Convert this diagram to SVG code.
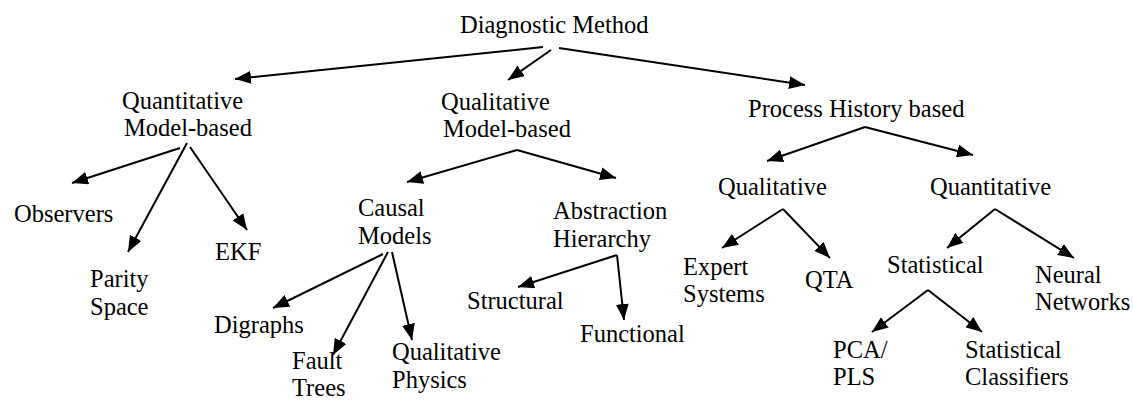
<svg xmlns="http://www.w3.org/2000/svg" width="1133" height="402" viewBox="0 0 1133 402" font-family="'Liberation Serif', 'DejaVu Serif', serif">
<defs>
<marker id="ah" markerUnits="userSpaceOnUse" markerWidth="17" markerHeight="13" refX="16" refY="6.5" orient="auto">
<path d="M0,0 L16,6.5 L0,13 z" fill="#000"/>
</marker>
<style>
text{font-family:'Liberation Serif','DejaVu Serif',serif;font-size:24.5px;fill:#000}
.c line{stroke:#000;stroke-width:2;marker-end:url(#ah)}
</style>
</defs>
<rect width="1133" height="402" fill="#fff"/>
<g class="c" id="connectors">
<line x1="543" y1="47" x2="235" y2="79"/>
<line x1="551" y1="50" x2="508" y2="80"/>
<line x1="559" y1="48" x2="805" y2="85"/>
<line x1="180" y1="148" x2="72" y2="183"/>
<line x1="187" y1="143" x2="128" y2="252"/>
<line x1="190" y1="147" x2="247" y2="230"/>
<line x1="517" y1="150" x2="407" y2="182"/>
<line x1="517" y1="150" x2="616" y2="178"/>
<line x1="383" y1="254" x2="273" y2="308"/>
<line x1="388" y1="252" x2="333" y2="355"/>
<line x1="392" y1="252" x2="412" y2="340"/>
<line x1="617" y1="255" x2="518" y2="287"/>
<line x1="617" y1="255" x2="624" y2="320"/>
<line x1="865" y1="127" x2="767" y2="161"/>
<line x1="865" y1="127" x2="973" y2="155"/>
<line x1="783" y1="209" x2="722" y2="248"/>
<line x1="783" y1="209" x2="830" y2="258"/>
<line x1="995" y1="209" x2="947" y2="248"/>
<line x1="995" y1="209" x2="1074" y2="258"/>
<line x1="928" y1="290" x2="872" y2="332"/>
<line x1="928" y1="290" x2="982" y2="332"/>
</g>
<g id="diagnostic"><text x="460" y="33">Diagnostic Method</text></g>
<g id="quant-model"><text x="122" y="109">Quantitative</text><text x="124" y="136">Model-based</text></g>
<g id="qual-model"><text x="441" y="110">Qualitative</text><text x="443" y="137">Model-based</text></g>
<g id="process-history"><text x="748" y="117">Process History based</text></g>
<g id="observers"><text x="14" y="222">Observers</text></g>
<g id="parity"><text x="90" y="287">Parity</text><text x="90" y="315">Space</text></g>
<g id="ekf"><text x="215" y="260">EKF</text></g>
<g id="causal"><text x="358" y="216">Causal</text><text x="358" y="244">Models</text></g>
<g id="abstraction"><text x="553" y="219">Abstraction</text><text x="553" y="247">Hierarchy</text></g>
<g id="digraphs"><text x="214" y="333">Digraphs</text></g>
<g id="fault-trees"><text x="292" y="369">Fault</text><text x="292" y="396">Trees</text></g>
<g id="qual-physics"><text x="392" y="360">Qualitative</text><text x="392" y="388">Physics</text></g>
<g id="structural"><text x="467" y="309">Structural</text></g>
<g id="functional"><text x="580" y="342">Functional</text></g>
<g id="qualitative"><text x="718" y="195">Qualitative</text></g>
<g id="quantitative"><text x="930" y="195">Quantitative</text></g>
<g id="expert"><text x="683" y="275">Expert</text><text x="683" y="302">Systems</text></g>
<g id="qta"><text x="805" y="288">QTA</text></g>
<g id="statistical"><text x="887" y="273">Statistical</text></g>
<g id="neural"><text x="1035" y="283">Neural</text><text x="1035" y="310">Networks</text></g>
<g id="pca"><text x="833" y="358">PCA/</text><text x="833" y="385">PLS</text></g>
<g id="classifiers"><text x="965" y="358">Statistical</text><text x="965" y="385">Classifiers</text></g>
</svg>
